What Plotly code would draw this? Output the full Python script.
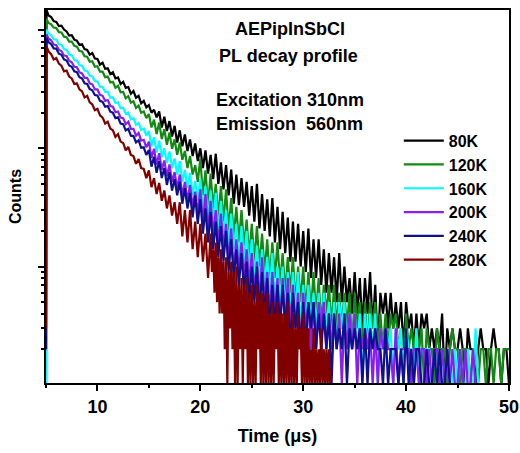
import plotly.graph_objects as go

# ---------------- data ----------------
time_us = [
    5.0, 5.05,
    5.25, 5.5, 5.75,
    6.0, 6.25, 6.5, 6.75, 7.0, 7.25, 7.5, 7.75, 8.0, 8.25, 8.5, 8.75,
    9.0, 9.25, 9.5, 9.75, 10.0, 10.25, 10.5, 10.75, 11.0, 11.25, 11.5, 11.75,
    12.0, 12.25, 12.5, 12.75, 13.0, 13.25, 13.5, 13.75, 14.0, 14.25, 14.5, 14.75,
    15.0, 15.25, 15.5, 15.75, 16.0, 16.25, 16.5, 16.75, 17.0, 17.25, 17.5, 17.75,
    18.0, 18.25, 18.5, 18.75, 19.0, 19.25, 19.5, 19.75, 20.0, 20.25, 20.5, 20.75,
    21.0, 21.25, 21.5, 21.75, 22.0, 22.25, 22.5, 22.75, 23.0, 23.25, 23.5, 23.75,
    24.0, 24.25, 24.5, 24.75, 25.0, 25.25, 25.5, 25.75, 26.0, 26.25, 26.5, 26.75,
    27.0, 27.25, 27.5, 27.75, 28.0, 28.25, 28.5, 28.75, 29.0, 29.25, 29.5, 29.75,
    30.0, 30.25, 30.5, 30.75, 31.0, 31.25, 31.5, 31.75, 32.0, 32.25, 32.5, 32.75,
    33.0, 33.25, 33.5, 33.75, 34.0, 34.25, 34.5, 34.75, 35.0, 35.25, 35.5, 35.75,
    36.0, 36.25, 36.5, 36.75, 37.0, 37.25, 37.5, 37.75, 38.0, 38.25, 38.5, 38.75,
    39.0, 39.25, 39.5, 39.75, 40.0, 40.25, 40.5, 40.75, 41.0, 41.25, 41.5, 41.75,
    42.0, 42.25, 42.5, 42.75, 43.0, 43.25, 43.5, 43.75, 44.0, 44.25, 44.5, 44.75,
    45.0, 45.25, 45.5, 45.75, 46.0, 46.25, 46.5, 46.75, 47.0, 47.25, 47.5, 47.75,
    48.0, 48.25, 48.5, 48.75, 49.0, 49.25, 49.5, 49.75,
    50.0,
]

# the 280K record is read at finer resolution where it breaks into noise
time_280K_fine = [
    21.0, 21.125, 21.25, 21.375, 21.5, 21.625, 21.75, 21.875,
    22.0, 22.125, 22.25, 22.375, 22.5, 22.625, 22.75, 22.875,
    23.0, 23.125, 23.25, 23.375, 23.5, 23.625, 23.75, 23.875,
    24.0, 24.125, 24.25, 24.375, 24.5, 24.625, 24.75, 24.875,
    25.0, 25.125, 25.25, 25.375, 25.5, 25.625, 25.75, 25.875,
    26.0, 26.125, 26.25, 26.375, 26.5, 26.625, 26.75, 26.875,
    27.0, 27.125, 27.25, 27.375, 27.5, 27.625, 27.75, 27.875,
    28.0, 28.125, 28.25, 28.375, 28.5, 28.625, 28.75, 28.875,
    29.0, 29.125, 29.25, 29.375, 29.5, 29.625, 29.75, 29.875,
    30.0, 30.125, 30.25, 30.375, 30.5, 30.625, 30.75, 30.875,
    31.0, 31.125, 31.25, 31.375, 31.5, 31.625, 31.75, 31.875,
    32.0, 32.125, 32.25, 32.375, 32.5, 32.625, 32.75, 32.875,
]
time_280K = time_us[:65] + time_280K_fine + time_us[113:]

counts_80K = [
    1, 1480,
    1330, 1290, 1190,
    1170, 1080, 1090, 1010,
    975, 900, 905, 830,
    815, 750, 760, 690,
    680, 620, 640, 575,
    570, 510, 530, 470,
    475, 425, 440, 390,
    398, 350, 365, 325,
    330, 290, 305, 268,
    278, 240, 252, 222,
    232, 200, 212, 183,
    205, 150, 185, 140,
    170, 126, 155, 112,
    142, 104, 131, 95,
    119, 86, 110, 78,
    100, 68, 96, 61,
    88, 55, 90, 50,
    76, 45, 72, 40,
    66, 34, 60, 33,
    56, 32, 52, 27,
    48, 24, 50, 21,
    41, 20, 37, 18,
    38, 16, 32, 14,
    29, 13, 26, 11,
    24, 11, 23, 10,
    20, 9, 21, 8,
    17, 8, 17, 7,
    14, 6, 13, 6,
    12, 5, 13, 5,
    10, 5, 8, 4,
    9, 4, 8, 3,
    8, 4, 9, 3,
    7, 2, 6, 4,
    6, 3, 6, 3,
    5, 3, 5, 2,
    5, 3, 4, 2,
    4, 2, 4, 3,
    4, 2, 3, 2,
    3, 2, 4, 1,
    3, 2, 3, 2,
    2, 3, 2, 1,
    3, 2, 2, 1,
    2, 3, 2, 2,
    1, 2, 3, 2,
    2, 1, 2, 2,
    1,
]

counts_120K = [
    1, 1250,
    1150, 1120, 1050,
    1040, 960, 955, 880,
    870, 800, 800, 735,
    725, 665, 660, 600,
    595, 540, 545, 490,
    495, 445, 445, 400,
    405, 360, 365, 325,
    338, 298, 300, 265,
    276, 243, 250, 220,
    230, 200, 205, 180,
    195, 150, 175, 132,
    165, 120, 145, 107,
    136, 99, 119, 88,
    112, 80, 95, 68,
    86, 60, 72, 52,
    82, 40, 65, 33,
    61, 31, 50, 26,
    48, 24, 45, 20,
    38, 18, 32, 16,
    30, 15, 25, 12,
    23, 11, 22, 10,
    19, 9, 17, 8,
    16, 8, 16, 7,
    13, 6, 12, 6,
    12, 5, 10, 5,
    10, 4, 9, 4,
    9, 4, 8, 3,
    7, 4, 7, 3,
    7, 3, 6, 3,
    6, 3, 6, 2,
    6, 3, 5, 2,
    5, 2, 5, 3,
    5, 2, 4, 2,
    4, 2, 4, 3,
    4, 2, 3, 1,
    4, 2, 3, 2,
    3, 2, 3, 1,
    3, 2, 2, 1,
    3, 2, 2, 2,
    1, 2, 3, 2,
    2, 1, 2, 2,
    2, 1, 2, 2,
    1, 2, 2, 1,
    2, 2, 1, 2,
    2, 1, 2, 2,
    2,
]

counts_160K = [
    1, 1010,
    930, 905, 840,
    830, 760, 750, 690,
    680, 620, 610, 560,
    552, 505, 500, 455,
    450, 410, 405, 370,
    368, 332, 330, 300,
    300, 268, 270, 242,
    245, 218, 220, 196,
    200, 176, 180, 158,
    164, 143, 147, 128,
    140, 104, 124, 92,
    116, 84, 100, 75,
    94, 68, 82, 60,
    78, 52, 66, 46,
    62, 40, 53, 36,
    55, 29, 48, 25,
    44, 23, 42, 19,
    36, 18, 30, 15,
    28, 14, 23, 11,
    22, 11, 20, 9,
    17, 8, 15, 7,
    14, 7, 12, 6,
    13, 5, 10, 5,
    10, 4, 9, 4,
    9, 4, 9, 3,
    7, 3, 7, 3,
    6, 3, 6, 2,
    6, 3, 5, 2,
    5, 2, 5, 3,
    5, 2, 4, 2,
    4, 2, 4, 1,
    4, 2, 4, 2,
    4, 1, 3, 2,
    3, 2, 3, 1,
    3, 2, 3, 1,
    3, 2, 2, 1,
    3, 1, 2, 2,
    2, 2, 1, 2,
    2, 1, 2, 1,
    2, 1, 1, 2,
    1, 2, 1, 1,
    2, 1, 1, 3,
    1, 1, 1, 1,
    1, 1, 1, 1,
    1, 1, 1, 1,
    1,
]

counts_200K = [
    2, 920,
    850, 820, 755,
    745, 680, 665, 610,
    605, 550, 535, 490,
    485, 440, 430, 395,
    395, 355, 348, 315,
    315, 283, 278, 252,
    256, 228, 225, 202,
    205, 182, 180, 160,
    168, 146, 146, 128,
    135, 116, 118, 102,
    114, 83, 99, 73,
    91, 66, 79, 58,
    73, 52, 63, 46,
    60, 40, 52, 36,
    49, 32, 43, 28,
    45, 23, 41, 20,
    36, 18, 30, 15,
    28, 14, 23, 11,
    21, 9, 17, 9,
    16, 8, 14, 7,
    13, 6, 11, 5,
    12, 5, 9, 4,
    9, 4, 8, 3,
    8, 3, 8, 3,
    7, 3, 6, 2,
    6, 3, 5, 2,
    5, 2, 5, 3,
    5, 2, 4, 2,
    4, 2, 4, 1,
    4, 2, 4, 2,
    4, 1, 3, 2,
    3, 2, 3, 1,
    3, 1, 3, 2,
    3, 2, 2, 1,
    3, 1, 2, 2,
    2, 2, 1, 2,
    2, 1, 2, 2,
    1, 2, 1, 2,
    2, 1, 2, 1,
    2, 1, 2, 1,
    1, 2, 1, 2,
    1, 1, 2, 1,
    1, 1, 1, 1,
    1, 1, 1, 1,
    1, 1, 1, 1,
    1,
]

counts_240K = [
    2, 860,
    790, 760, 700,
    695, 632, 618, 565,
    552, 502, 490, 448,
    440, 400, 390, 355,
    350, 317, 310, 282,
    280, 252, 247, 225,
    228, 204, 200, 180,
    183, 162, 160, 142,
    146, 128, 127, 112,
    117, 101, 102, 88,
    97, 70, 85, 62,
    78, 56, 68, 49,
    63, 44, 55, 40,
    52, 34, 46, 31,
    42, 26, 40, 23,
    37, 19, 31, 16,
    29, 14, 24, 12,
    22, 11, 20, 9,
    17, 8, 14, 7,
    13, 6, 11, 5,
    10, 5, 10, 4,
    9, 4, 8, 3,
    7, 3, 7, 3,
    7, 3, 6, 2,
    6, 3, 5, 2,
    5, 2, 5, 3,
    5, 2, 4, 2,
    4, 2, 4, 1,
    4, 2, 3, 2,
    4, 1, 3, 2,
    3, 2, 3, 1,
    3, 1, 3, 2,
    3, 2, 2, 1,
    3, 1, 2, 2,
    2, 1, 2, 1,
    3, 1, 2, 1,
    2, 2, 1, 1,
    2, 1, 1, 2,
    1, 2, 1, 1,
    2, 1, 1, 1,
    1, 1, 1, 1,
    1, 1, 1, 1,
    1, 1, 1, 1,
    1, 1, 1, 1,
    1, 1, 1, 1,
    1,
]

counts_280K = [
    3, 730,
    660, 625, 565,
    580, 520, 500, 448,
    455, 405, 390, 350,
    355, 315, 303, 270,
    278, 245, 235, 210,
    216, 190, 182, 162,
    168, 147, 142, 125,
    132, 114, 111, 96,
    103, 88, 86, 74,
    81, 68, 67, 56,
    65, 47, 56, 41,
    51, 36, 44, 31,
    40, 27, 35, 23,
    35, 18, 30, 16,
    30, 14, 24, 12,
    23, 11, 19, 8,
    # finer section, 21.0 - 32.875 us
    19, 9, 14, 6, 16, 5, 12, 4,
    14, 4, 11, 2, 12, 1, 9, 3,
    11, 2, 9, 1, 10, 1, 7, 2,
    8, 1, 7, 2, 8, 1, 6, 1,
    7, 1, 5, 1, 7, 2, 6, 1,
    6, 1, 5, 1, 6, 1, 4, 1,
    5, 1, 4, 2, 5, 1, 4, 1,
    4, 1, 4, 1, 5, 1, 3, 1,
    4, 1, 3, 1, 4, 2, 3, 1,
    4, 1, 3, 1, 3, 1, 2, 1,
    3, 1, 2, 1, 2, 1, 3, 1,
    2, 1, 2, 1, 2, 1, 1, 1,
    # 33.0 - 50.0 us
    1, 1, 1, 1,
    1, 1, 1, 1,
    1, 1, 1, 1,
    1, 1, 1, 1,
    1, 1, 1, 1,
    1, 1, 1, 1,
    1, 1, 1, 1,
    1, 1, 1, 1,
    1, 1, 1, 1,
    1, 1, 1, 1,
    1, 1, 1, 1,
    1, 1, 1, 1,
    1, 1, 1, 1,
    1, 1, 1, 1,
    1, 1, 1, 1,
    1, 1, 1, 1,
    1, 1, 1, 1,
    1,
]

series_names = ["80K", "120K", "160K", "200K", "240K", "280K"]
series_times = [time_us, time_us, time_us, time_us, time_us, time_280K]
series_counts = [counts_80K, counts_120K, counts_160K, counts_200K, counts_240K, counts_280K]
series_colors = ["#000000", "#138a13", "#00ffff", "#8a1ef0", "#10108c", "#800000"]

x_tick_vals = [10, 20, 30, 40, 50]
x_minor_vals = [5, 15, 25, 35, 45]
y_major_vals = [10, 100, 1000]
y_minor_vals = [2, 3, 4, 5, 6, 7, 8, 9, 20, 30, 40, 50, 60, 70, 80, 90,
                200, 300, 400, 500, 600, 700, 800, 900]

FONT = "Arial, Liberation Sans, sans-serif"

fig = go.Figure()
for name, xs, ys, col in zip(series_names, series_times, series_counts, series_colors):
    assert len(ys) == len(xs), (name, len(ys), len(xs))
    fig.add_trace(go.Scatter(
        x=xs, y=ys, name=name, mode="lines",
        line=dict(color=col, width=2.2),
    ))

fig.update_layout(
    width=520, height=453,
    margin=dict(l=46, r=11, t=10, b=70),
    paper_bgcolor="white", plot_bgcolor="white",
    font=dict(family=FONT, color="black"),
    legend=dict(
        x=0.762, y=0.695, xanchor="left", yanchor="top",
        bgcolor="rgba(0,0,0,0)", borderwidth=0,
        font=dict(family=FONT, size=16, color="black", weight="bold"),
        itemwidth=40, tracegroupgap=0,
    ),
    xaxis=dict(
        range=[5, 50], tickvals=x_tick_vals, automargin=False,
        ticks="outside", ticklen=6, tickwidth=2, tickcolor="black",
        showline=True, linewidth=2, linecolor="black", mirror=True,
        showgrid=False, zeroline=False,
        tickfont=dict(family=FONT, size=18, color="black", weight="bold"),
        minor=dict(tickvals=x_minor_vals, ticks="outside", ticklen=3,
                   tickwidth=2, tickcolor="black", showgrid=False),
        title=dict(text="Time (\u03bcs)", standoff=14,
                   font=dict(family=FONT, size=18, color="black", weight="bold")),
    ),
    yaxis=dict(
        type="log", range=[0.015, 3.17], tickvals=y_major_vals, automargin=False,
        showticklabels=False,
        ticks="outside", ticklen=6, tickwidth=2, tickcolor="black",
        showline=True, linewidth=2, linecolor="black", mirror=True,
        showgrid=False, zeroline=False,
        minor=dict(tickvals=y_minor_vals, ticks="outside", ticklen=3,
                   tickwidth=1.5, tickcolor="black", showgrid=False),
        title=dict(text="Counts", standoff=12,
                   font=dict(family=FONT, size=16, color="black", weight="bold")),
    ),
)

ann_font = dict(family=FONT, size=18, color="black", weight="bold")
fig.add_annotation(text="AEPipInSbCl", xref="paper", yref="paper",
                   x=0.526, y=0.949, xanchor="center", yanchor="middle",
                   showarrow=False, font=ann_font)
fig.add_annotation(text="PL decay profile", xref="paper", yref="paper",
                   x=0.523, y=0.878, xanchor="center", yanchor="middle",
                   showarrow=False, font=ann_font)
fig.add_annotation(text="Excitation 310nm", xref="paper", yref="paper",
                   x=0.363, y=0.760, xanchor="left", yanchor="middle",
                   showarrow=False, font=ann_font)
fig.add_annotation(text="Emission\u00a0 560nm", xref="paper", yref="paper",
                   x=0.363, y=0.694, xanchor="left", yanchor="middle",
                   showarrow=False, font=ann_font)

fig.write_html("out.html")
